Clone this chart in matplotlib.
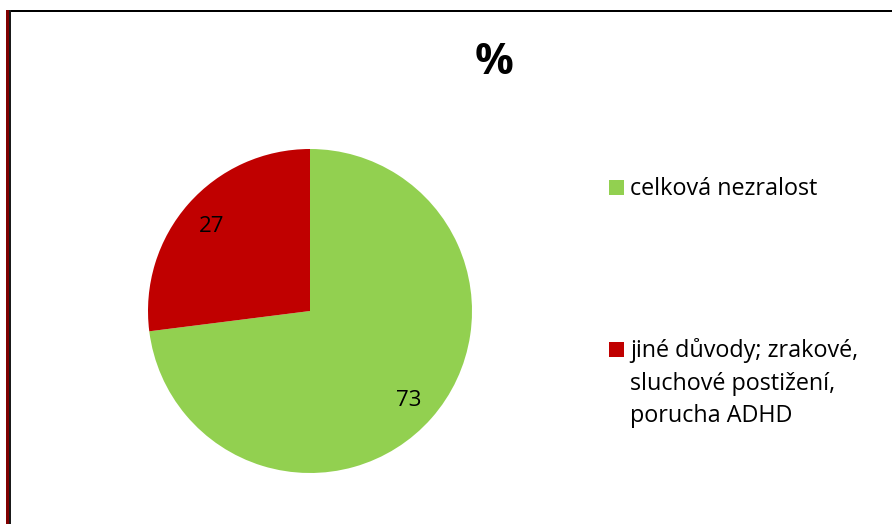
import matplotlib.pyplot as plt
from matplotlib.patches import Rectangle

# data
categories = ['celková nezralost', 'jiné důvody; zrakové,\nsluchové postižení,\nporucha ADHD']
values = [73, 27]
colors = ['#92D050', '#C00000']

W, H = 892, 524
plt.rcParams['font.family'] = ['Open Sans', 'DejaVu Sans']

fig = plt.figure(figsize=(W / 100, H / 100), dpi=100)

def px(x, y):
    # pixel coordinates (top-left origin) -> figure fraction
    return x / W, 1 - y / H

def box(x0, y0, x1, y1, color):
    fig.patches.append(Rectangle((x0 / W, 1 - y1 / H), (x1 - x0) / W, (y1 - y0) / H,
                                 transform=fig.transFigure, color=color, lw=0))

# pie axes: circle centre ~(310, 311), radius ~162 px
cx, cy, r = 310, 311, 162
ax = fig.add_axes([(cx - r) / W, (H - cy - r) / H, 2 * r / W, 2 * r / H])
wedges, _, autotexts = ax.pie(
    values, colors=colors, startangle=90, counterclock=False,
    autopct=lambda p: f'{p:.0f}', pctdistance=0.81,
    textprops={'fontsize': 16, 'color': 'black', 'va': 'center_baseline'},
    wedgeprops={'linewidth': 0}, radius=1.0)
ax.set_xlim(-1, 1)
ax.set_ylim(-1, 1)
ax.set_aspect('equal')
ax.axis('off')

# title
fig.text(*px(494, 63), '%', fontsize=31, fontweight='bold', ha='center', va='center')

# legend drawn by hand to match the spacing
legend_baselines = [195, 357]
for cat, col, y in zip(categories, colors, legend_baselines):
    box(609, y - 15, 624, y, col)
    for i, line in enumerate(cat.split('\n')):
        fig.text(*px(630, y + i * 32.5), line, fontsize=16.8, ha='left', va='baseline')

# chart frame (top black, left dark red + black)
box(9, 10, W, 11.5, 'black')
box(6, 10, 9, H, '#800000')
box(9, 10, 10.5, H, '#1a1a1a')

fig.savefig('out.png', dpi=100)
